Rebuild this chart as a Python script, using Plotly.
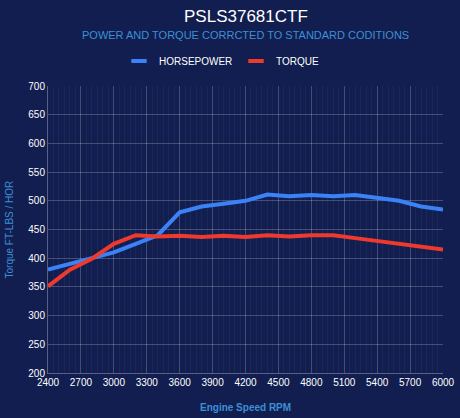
import plotly.graph_objects as go

rpm = [2400, 2600, 2800, 3000, 3200, 3400, 3600, 3800, 4000, 4200, 4400,
       4600, 4800, 5000, 5200, 5400, 5600, 5800, 6000]
horsepower = [380, 390, 400, 410, 425, 440, 480, 490, 495, 500, 511,
              508, 510, 508, 510, 505, 500, 490, 485]
torque = [351, 380, 399, 425, 440, 438, 439, 437, 439, 437, 440,
          438, 440, 440, 435, 430, 425, 420, 415]

x_ticks = list(range(2400, 6001, 300))

bg = "#111e4f"
font = "Liberation Sans, Arial, sans-serif"
accent = "#3d8fd6"
blue = "#3b82f6"
red = "#ee3a2e"

fig = go.Figure()
for name, vals, color in (("HORSEPOWER", horsepower, blue), ("TORQUE", torque, red)):
    fig.add_trace(go.Scatter(x=rpm, y=vals, name=name, mode="lines",
                             line=dict(color=color, width=4), showlegend=False))
    # legend swatch: short thick bar like the reference
    fig.add_trace(go.Scatter(x=[None], y=[None], name=name, mode="markers",
                             marker=dict(symbol="line-ew", size=11,
                                         line=dict(color=color, width=4))))

# plot area is 48..443 x 86..373 px
fig.update_layout(
    width=460,
    height=418,
    paper_bgcolor=bg,
    plot_bgcolor=bg,
    font=dict(family=font, color="white", size=10),
    margin=dict(l=48, r=17, t=86, b=45, autoexpand=False),
    legend=dict(orientation="h", x=0.5 + 6 / 460, xanchor="center", xref="container",
                y=1 - 61 / 418, yanchor="middle", yref="container",
                font=dict(size=10, color="white"), itemwidth=30,
                entrywidth=72, entrywidthmode="pixels",
                bgcolor="rgba(0,0,0,0)"),
    annotations=[
        dict(text="PSLS37681CTF", x=0.5, y=(373 - 16) / 287,
             xanchor="center", yanchor="middle",
             font=dict(size=17, color="white", family=font)),
        dict(text="POWER AND TORQUE CORRCTED TO STANDARD CODITIONS",
             x=0.5, y=(373 - 35) / 287, xanchor="center", yanchor="middle",
             font=dict(size=11, color=accent, family=font)),
        dict(text="<b>Engine Speed RPM</b>", x=0.5, y=(373 - 407) / 287,
             xanchor="center", yanchor="middle",
             font=dict(size=10, color=accent, family=font)),
        dict(text="Torque FT-LBS / HOR", x=(9 - 48) / 395, y=0.5, textangle=-90,
             xanchor="center", yanchor="middle",
             font=dict(size=10, color=accent, family=font)),
    ],
)
for a in fig.layout.annotations:
    a.update(xref="paper", yref="paper", showarrow=False)

fig.update_xaxes(
    range=[2400, 6000],
    tickvals=x_ticks,
    showgrid=True,
    gridcolor="rgba(255,255,255,0.18)",
    minor=dict(dtick=50, showgrid=True, gridcolor="rgba(255,255,255,0.045)"),
    zeroline=False,
    showline=True,
    linecolor="rgba(255,255,255,0.3)",
    ticks="",
    automargin=False,
    tickfont=dict(size=10, color="white"),
)
fig.update_yaxes(
    range=[200, 700],
    dtick=50,
    showgrid=True,
    gridcolor="rgba(255,255,255,0.22)",
    zeroline=False,
    showline=True,
    linecolor="rgba(255,255,255,0.3)",
    ticks="",
    automargin=False,
    tickfont=dict(size=10, color="white"),
)

# drop the page's default body margin so the figure sits at the window's corner
fig.write_html("out.html",
               config={"displayModeBar": False},
               post_script="document.body.style.margin='0';"
                           "document.body.style.overflow='hidden';")
